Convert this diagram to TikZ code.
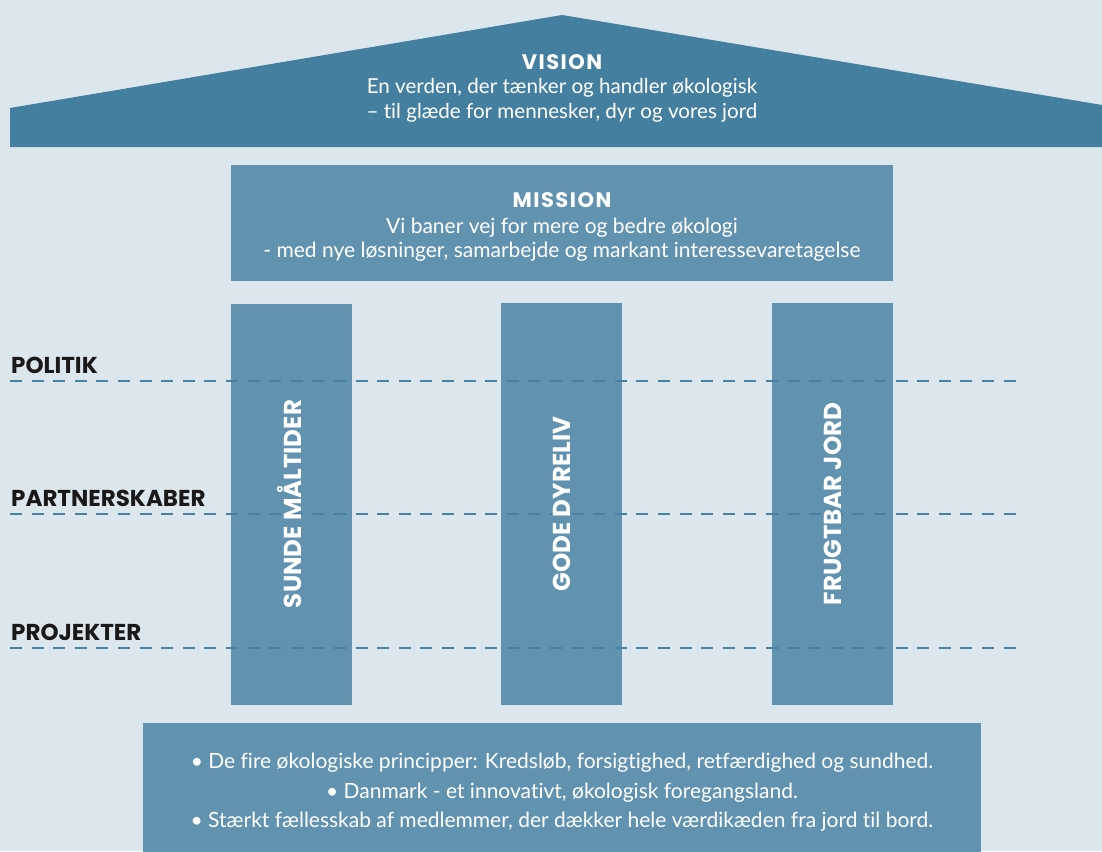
\documentclass[tikz,border=0pt]{standalone}
\usepackage{fontspec}
\setmainfont{Lato}[Ligatures=NoCommon]
\newfontfamily\headfont{Poppins}
\newfontfamily\titlefont{Poppins}[LetterSpace=7]
\definecolor{bgc}{HTML}{DCE6ED}
\definecolor{roofc}{HTML}{457FA0}
\definecolor{boxc}{HTML}{6193B0}
\definecolor{dashc}{HTML}{4A80A2}
\tikzset{
  panel/.style={fill=boxc, inner sep=0pt},
  dashline/.style={draw=dashc, line width=2.6pt, dash pattern=on 12pt off 9.6pt},
  levellabel/.style={anchor=base west, inner sep=0pt, text=black!90, font=\headfont\bfseries\fontsize{23}{26}\selectfont},
  pillartext/.style={rotate=90, text=white, inner sep=0pt, font=\headfont\bfseries\fontsize{24.5}{28}\selectfont},
  titletext/.style={anchor=base, text=white, inner sep=0pt, font=\titlefont\bfseries\fontsize{21}{24}\selectfont},
  linetext/.style={anchor=base, text=white, inner sep=0pt, font=\fontsize{21}{25}\selectfont},
}
\begin{document}
\begin{tikzpicture}[x=1pt,y=-1pt]
\fill[bgc] (0,0) rectangle (1102,851);
\useasboundingbox (0,0) rectangle (1102,851);
% roof
\fill[roofc] (10,147) -- (10,108) -- (562,15) -- (1102,105) -- (1102,147) -- cycle;
\node[titletext] (vision) at (562,70) {VISION};
\node[linetext, font=\fontsize{20.6}{25}\selectfont] (vision1) at (562,93) {En verden, der tænker og handler økologisk};
\node[linetext, font=\fontsize{20.6}{25}\selectfont] (vision2) at (562,118) {– til glæde for mennesker, dyr og vores jord};
% mission
\node[panel, minimum width=662pt, minimum height=116pt] (missionbox) at (562,223) {};
\node[titletext] (mission) at (562,207) {MISSION};
\node[linetext] (mission1) at (562,233) {Vi baner vej for mere og bedre økologi};
\node[linetext] (mission2) at (562,257) {- med nye løsninger, samarbejde og markant interessevaretagelse};
% pillars
\node[panel, minimum width=121pt, minimum height=401pt] (p1) at (291.5,504.5) {};
\node[panel, minimum width=121pt, minimum height=402pt] (p2) at (561.5,504) {};
\node[panel, minimum width=121pt, minimum height=402pt] (p3) at (832.5,504) {};
% dashed level lines
\coordinate (l1a) at (10,381); \coordinate (l1b) at (1025,381);
\coordinate (l2a) at (10,514); \coordinate (l2b) at (1025,514);
\coordinate (l3a) at (10,648); \coordinate (l3b) at (1025,648);
\draw[dashline] (l1a) -- (l1b);
\draw[dashline] (l2a) -- (l2b);
\draw[dashline] (l3a) -- (l3b);
\node[levellabel] (politik) at (11,373) {POLITIK};
\node[levellabel] (partner) at (11,506) {PARTNERSKABER};
\node[levellabel] (projekter) at (11,640) {PROJEKTER};
% pillar texts
\node[pillartext] (t1) at (289,504) {SUNDE MÅLTIDER};
\node[pillartext] (t2) at (p2) {GODE DYRELIV};
\node[pillartext] (t3) at (p3) {FRUGTBAR JORD};
% foundation
\node[panel, minimum width=838pt, minimum height=137pt] (base) at (562,791.5) {};
\node[linetext] (b1) at (562,768) {• De fire økologiske principper: Kredsløb, forsigtighed, retfærdighed og sundhed.};
\node[linetext] (b2) at (562,798) {• Danmark - et innovativt, økologisk foregangsland.};
\node[linetext] (b3) at (562,827) {• Stærkt fællesskab af medlemmer, der dækker hele værdikæden fra jord til bord.};
\end{tikzpicture}
\end{document}
